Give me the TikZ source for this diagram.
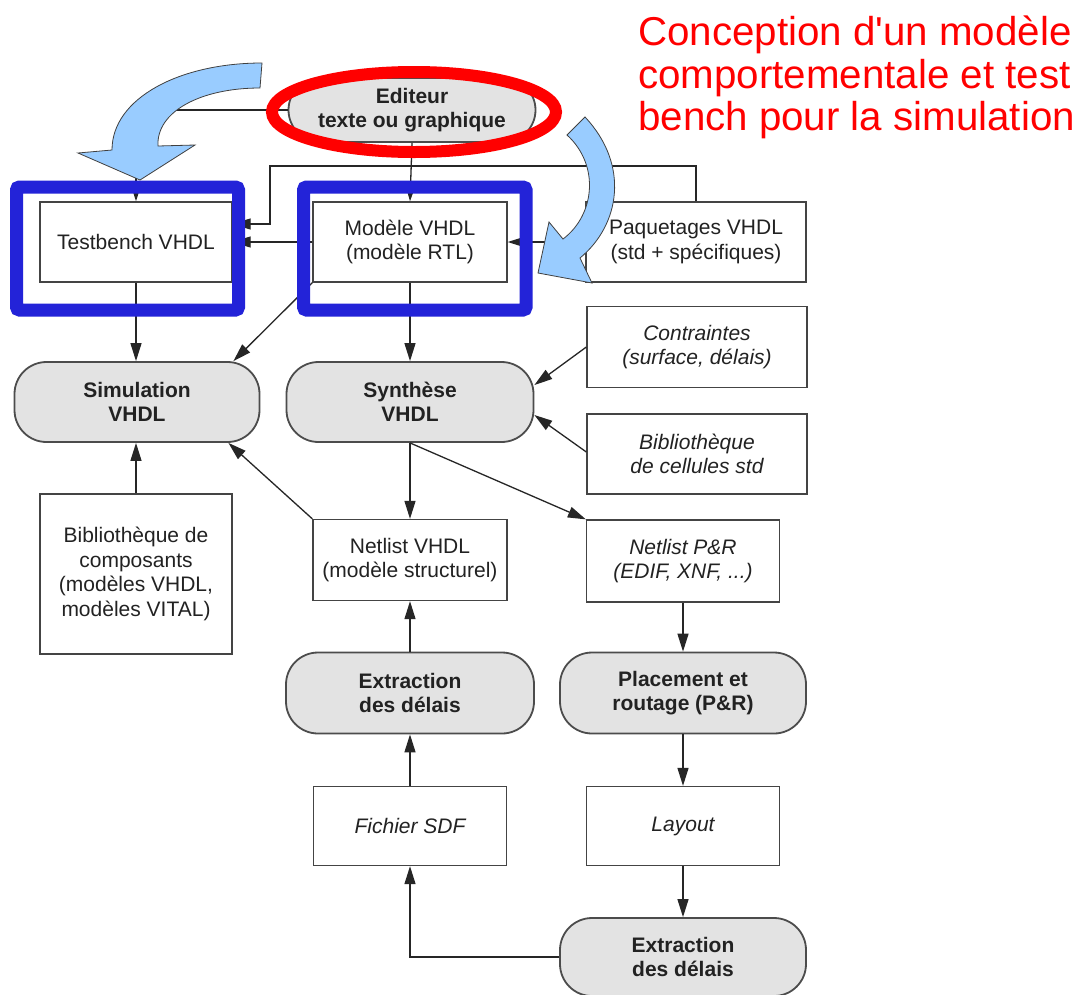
\documentclass[tikz,border=0pt]{standalone}
\usepackage{fontspec}
\setmainfont{Liberation Sans}
\newfontfamily\redfont{Liberation Sans}[Ligatures=TeXOff]
\usetikzlibrary{arrows.meta}
\definecolor{boxline}{HTML}{444444}
\definecolor{pillfill}{HTML}{E3E3E3}
\definecolor{arrowblue}{HTML}{99CCFF}
\definecolor{markblue}{HTML}{2323D8}
\definecolor{txt}{HTML}{222222}
\begin{document}
\begin{tikzpicture}[x=1pt,y=-1pt,
  box/.style={draw=boxline, line width=1.3pt, fill=white, align=center, text=txt,
    font=\fontsize{21}{24.5}\selectfont, inner sep=0pt},
  itbox/.style={box, font=\itshape\fontsize{21}{24.5}\selectfont},
  pill/.style={box, rounded corners=32pt, fill=pillfill, draw=black!70, line width=1.8pt,
    font=\bfseries\fontsize{21}{24.5}\selectfont},
  conn/.style={draw=black!85, line width=1.3pt, -{Triangle[length=18pt,width=11pt]}},
  markbox/.style={draw=markblue, line width=13pt, rounded corners=3pt},
  bigarrow/.style={fill=arrowblue, draw=black!75, line width=0.8pt},
  redtext/.style={anchor=base west, inner sep=0pt, text=red, font=\redfont\fontsize{40.3}{44}\selectfont}
]
\useasboundingbox (0,0) rectangle (1087,994);
\fill[white] (0,0) rectangle (1087,994);

% nodes
\node[pill, minimum width=247pt, minimum height=64pt] (editor) at (412,110) {Editeur\\texte ou graphique};
\node[box, minimum width=192pt, minimum height=80pt] (tb) at (136,242) {Testbench VHDL};
\node[box, minimum width=194pt, minimum height=80pt] (mod) at (410,242) {Modèle VHDL\\(modèle RTL)};
\node[box, minimum width=220pt, minimum height=80pt] (paq) at (696,242) {Paquetages VHDL\\(std + spécifiques)};
\node[pill, minimum width=245pt, minimum height=80pt] (sim) at (137,402) {Simulation\\VHDL};
\node[pill, minimum width=247pt, minimum height=80pt] (syn) at (410,402) {Synthèse\\VHDL};
\node[itbox, minimum width=220pt, minimum height=81pt] (contr) at (697,347) {Contraintes\\(surface, délais)};
\node[itbox, minimum width=220pt, minimum height=80pt] (bcell) at (697,454) {Bibliothèque\\de cellules std};
\node[box, minimum width=192pt, minimum height=160pt] (bcomp) at (136,574) {Bibliothèque de\\composants\\(modèles VHDL,\\modèles VITAL)};
\node[box, minimum width=194pt, minimum height=81pt] (netv) at (410,560) {Netlist VHDL\\(modèle structurel)};
\node[itbox, minimum width=193pt, minimum height=82pt] (netpr) at (683,561) {Netlist P\&R\\(EDIF, XNF, ...)};
\node[pill, minimum width=248pt, minimum height=81pt] (ext1) at (410,693) {Extraction\\des délais};
\node[pill, minimum width=246pt, minimum height=81pt] (place) at (683,693) {Placement et\\routage (P\&R)};
\node[itbox, minimum width=193pt, minimum height=79pt] (sdf) at (410,826) {Fichier SDF};
\node[itbox, minimum width=193pt, minimum height=79pt] (layout) at (683,826) {Layout};
\node[pill, minimum width=246pt, minimum height=78pt] (ext2) at (683,957) {Extraction\\des délais};

% connectors
\coordinate (j1) at (270,166);
\draw[conn] (editor.west) -| (tb.north);
\draw[conn] (editor.south) -- (mod.north);
\draw[conn] (paq.north) |- (j1) |- ([yshift=18pt]tb.east);
\draw[conn] (mod.west) -- (tb.east);
\draw[conn] (paq.west) -- (mod.east);
\draw[conn] (tb.south) -- (tb.south |- sim.north);
\draw[conn] (mod.south) -- (syn.north);
\draw[conn] (mod.south west) -- ([xshift=-27pt]sim.north east);
\draw[conn] (netv.north west) -- ([xshift=-32pt]sim.south east);
\draw[conn] (bcomp.north) -- (bcomp.north |- sim.south);
\draw[conn] (syn.south) -- (netv.north);
\draw[conn] (syn.south) -- (netpr.north west);
\draw[conn] (contr.west) -- ([yshift=17pt]syn.east);
\draw[conn] ([yshift=2pt]bcell.west) -- ([yshift=-13pt]syn.east);
\draw[conn] (netpr.south) -- (place.north);
\draw[conn] (place.south) -- (layout.north);
\draw[conn] (layout.south) -- (ext2.north);
\draw[conn] (ext2.west) -| (sdf.south);
\draw[conn] (sdf.north) -- (ext1.south);
\draw[conn] (ext1.north) -- (netv.south);

% blue highlight frames
\draw[markbox] (16.5,187) rectangle (238.5,310);
\draw[markbox] (303.5,187) rectangle (526,310);

% red ellipse
\draw[red, line width=12pt] (414,112) ellipse [x radius=142, y radius=40];

% curved blue arrows
\draw[bigarrow] (262,63) .. controls (180,63) and (112,98) .. (112,150)
  -- (78,153) -- (140,180) -- (195,145) -- (158,146)
  .. controls (156,112) and (200,88) .. (260,88) -- cycle;
\draw[bigarrow] (585,117) .. controls (630,165) and (620,225) .. (580,258)
  -- (592,283) -- (538,273) -- (549,222) -- (563,239)
  .. controls (595,215) and (600,165) .. (567,135) -- cycle;

% red caption
\node[redtext] (cap1) at (638,45) {Conception d'un modèle};
\node[redtext] (cap2) at (638,88) {comportementale et test};
\node[redtext] (cap3) at (638,130) {bench pour la simulation};
\end{tikzpicture}
\end{document}
